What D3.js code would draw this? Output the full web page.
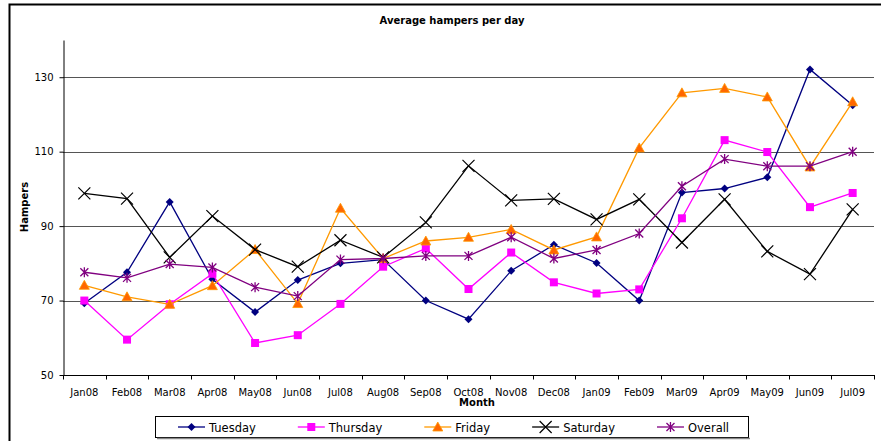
<!DOCTYPE html>
<meta charset="utf-8">
<head>
    <title>Average hampers per day</title>
</head>
<style>
    body { margin: 0; background: #fff; }
    text { font-family: "DejaVu Sans", Verdana, sans-serif; fill: #000; }
</style>
<body>
    <svg width="881" height="441"></svg>
    <script src="https://cdnjs.cloudflare.com/ajax/libs/d3/7.8.5/d3.min.js"></script>
    <script>
        var months = ['Jan08', 'Feb08', 'Mar08', 'Apr08', 'May08', 'Jun08', 'Jul08', 'Aug08', 'Sep08', 'Oct08',
            'Nov08', 'Dec08', 'Jan09', 'Feb09', 'Mar09', 'Apr09', 'May09', 'Jun09', 'Jul09']
        var tuesday = [69.3, 77.6, 96.5, 75.7, 66.9, 75.5, 80, 81, 70, 65, 78, 85, 80.1, 70, 99, 100.1, 103.1, 132.1, 122.5]
        var thursday = [70, 59.5, 69, 77.2, 58.6, 60.7, 69.1, 79.1, 84, 73.1, 82.9, 74.9, 71.9, 73, 92.1, 113.1, 109.9, 95.1, 98.9]
        var friday = [74.1, 71, 69, 74, 83.7, 69.2, 94.8, 81.3, 86, 87, 89.1, 83.6, 87.1, 111, 125.8, 127, 124.7, 105.9, 123.4]
        var saturday = [98.8, 97.4, 81.6, 92.7, 83.7, 79.1, 86.2, 81.6, 91, 106.2, 96.9, 97.3, 91.8, 97.2, 85.6, 97.2, 83.2, 77.1, 94.5]
        var overall = [77.6, 76.1, 79.8, 78.9, 73.6, 71.2, 81, 81.3, 82, 82, 87, 81.3, 83.6, 88, 100.7, 108, 106.1, 106.1, 110]
        var yTicks = [50, 70, 90, 110, 130]

        var series = [
            { name: 'Tuesday', values: tuesday, line: '#000080', fill: '#000080', marker: 'diamond' },
            { name: 'Thursday', values: thursday, line: '#ff00ff', fill: '#ff00ff', marker: 'square' },
            { name: 'Friday', values: friday, line: '#ff9900', fill: '#ff6600', marker: 'triangle' },
            { name: 'Saturday', values: saturday, line: '#000000', fill: 'none', marker: 'x' },
            { name: 'Overall', values: overall, line: '#800080', fill: '#800080', marker: 'star' }
        ]

        var svg = d3.select('svg')
        var plotLeft = 63, plotRight = 874, plotTop = 40, plotBottom = 375

        // chart frame
        svg.append('path')
            .attr('d', 'M9.5,441 V4.5 H881')
            .attr('fill', 'none').attr('stroke', '#000').attr('stroke-width', 2)

        var x = d3.scaleBand().domain(months).range([plotLeft, plotRight])
        var y = d3.scaleLinear().domain([50, 140]).range([plotBottom, plotTop])

        // gridlines
        svg.append('g').selectAll('line')
            .data(yTicks.slice(1))
            .enter().append('line')
            .attr('x1', plotLeft).attr('x2', plotRight)
            .attr('y1', function (d) { return Math.round(y(d)) + 0.5 })
            .attr('y2', function (d) { return Math.round(y(d)) + 0.5 })
            .attr('stroke', '#555').attr('stroke-width', 1.2)

        // y axis
        var yAxis = svg.append('g')
            .attr('transform', 'translate(' + (plotLeft + 0.5) + ',0)')
            .call(d3.axisLeft(y).tickValues(yTicks).tickSize(4).tickPadding(6).tickSizeOuter(0))
        yAxis.selectAll('text').style('font-size', '10px').style('font-family', '"DejaVu Sans", sans-serif')
        yAxis.select('.domain').attr('stroke', '#000')

        // x axis with ticks between categories
        var xg = svg.append('g').attr('transform', 'translate(0,' + (plotBottom + 0.5) + ')')
        xg.append('line').attr('x1', plotLeft).attr('x2', plotRight + 1).attr('stroke', '#000')
        xg.selectAll('.tk')
            .data(months.concat(['end']))
            .enter().append('line')
            .attr('x1', function (d, i) { return Math.round(plotLeft + i * x.bandwidth()) + 0.5 })
            .attr('x2', function (d, i) { return Math.round(plotLeft + i * x.bandwidth()) + 0.5 })
            .attr('y1', 0).attr('y2', 4)
            .attr('stroke', '#000')
        xg.selectAll('.lbl')
            .data(months)
            .enter().append('text')
            .attr('x', function (d) { return x(d) + x.bandwidth() / 2 })
            .attr('y', 20)
            .attr('text-anchor', 'middle')
            .style('font-size', '10px')
            .text(function (d) { return d })

        // titles
        svg.append('text').attr('x', 452).attr('y', 24).attr('text-anchor', 'middle')
            .style('font-size', '10px').style('font-weight', 'bold')
            .text('Average hampers per day')
        svg.append('text').attr('x', 477).attr('y', 406).attr('text-anchor', 'middle')
            .style('font-size', '10px').style('font-weight', 'bold')
            .text('Month')
        svg.append('text')
            .attr('transform', 'translate(28,207) rotate(-90)')
            .attr('text-anchor', 'middle')
            .style('font-size', '10px').style('font-weight', 'bold')
            .text('Hampers')

        function drawMarker(g, s, cx, cy) {
            if (s.marker === 'diamond') {
                g.append('path').attr('d', 'M' + cx + ',' + (cy - 4) + 'L' + (cx + 4) + ',' + cy + 'L' + cx + ',' + (cy + 4) + 'L' + (cx - 4) + ',' + cy + 'Z')
                    .attr('fill', s.fill)
            } else if (s.marker === 'square') {
                g.append('rect').attr('x', cx - 4).attr('y', cy - 4).attr('width', 8).attr('height', 8)
                    .attr('fill', s.fill)
            } else if (s.marker === 'triangle') {
                g.append('path').attr('d', 'M' + cx + ',' + (cy - 5) + 'L' + (cx + 5) + ',' + (cy + 4) + 'L' + (cx - 5) + ',' + (cy + 4) + 'Z')
                    .attr('fill', s.fill).attr('stroke', '#ff9900').attr('stroke-width', 0.8)
            } else if (s.marker === 'x') {
                g.append('path').attr('d', 'M' + (cx - 6) + ',' + (cy - 6) + 'L' + (cx + 6) + ',' + (cy + 6) + 'M' + (cx + 6) + ',' + (cy - 6) + 'L' + (cx - 6) + ',' + (cy + 6))
                    .attr('stroke', s.line).attr('stroke-width', 1.2)
            } else if (s.marker === 'star') {
                g.append('path').attr('d', 'M' + (cx - 4) + ',' + (cy - 4) + 'L' + (cx + 4) + ',' + (cy + 4) + 'M' + (cx + 4) + ',' + (cy - 4) + 'L' + (cx - 4) + ',' + (cy + 4) + 'M' + cx + ',' + (cy - 5) + 'V' + (cy + 5))
                    .attr('stroke', s.line).attr('stroke-width', 1.3)
            }
        }

        var line = d3.line()
            .x(function (d, i) { return x(months[i]) + x.bandwidth() / 2 })
            .y(function (d) { return y(d) })

        series.forEach(function (s) {
            var g = svg.append('g')
            g.append('path').datum(s.values)
                .attr('d', line)
                .attr('fill', 'none').attr('stroke', s.line).attr('stroke-width', 1.3)
            s.values.forEach(function (v, i) {
                drawMarker(g, s, x(months[i]) + x.bandwidth() / 2, y(v))
            })
        })

        // legend
        var lg = svg.append('g')
        lg.append('rect').attr('x', 155.5).attr('y', 416.5).attr('width', 593).attr('height', 21)
            .attr('fill', '#fff').attr('stroke', '#000')
        lg.append('line').attr('x1', 157).attr('x2', 750).attr('y1', 438.5).attr('y2', 438.5)
            .attr('stroke', '#888').attr('stroke-width', 1.5)
        var lx = 178
        series.forEach(function (s) {
            var g = lg.append('g')
            g.append('line').attr('x1', lx).attr('x2', lx + 27).attr('y1', 427).attr('y2', 427)
                .attr('stroke', s.line).attr('stroke-width', 1.3)
            drawMarker(g, s, lx + 13.5, 427)
            var t = g.append('text').attr('x', lx + 31).attr('y', 431.5)
                .style('font-size', '11.5px').text(s.name)
            lx = lx + 31 + t.node().getComputedTextLength() + 42
        })
    </script>
</body>
</html>
